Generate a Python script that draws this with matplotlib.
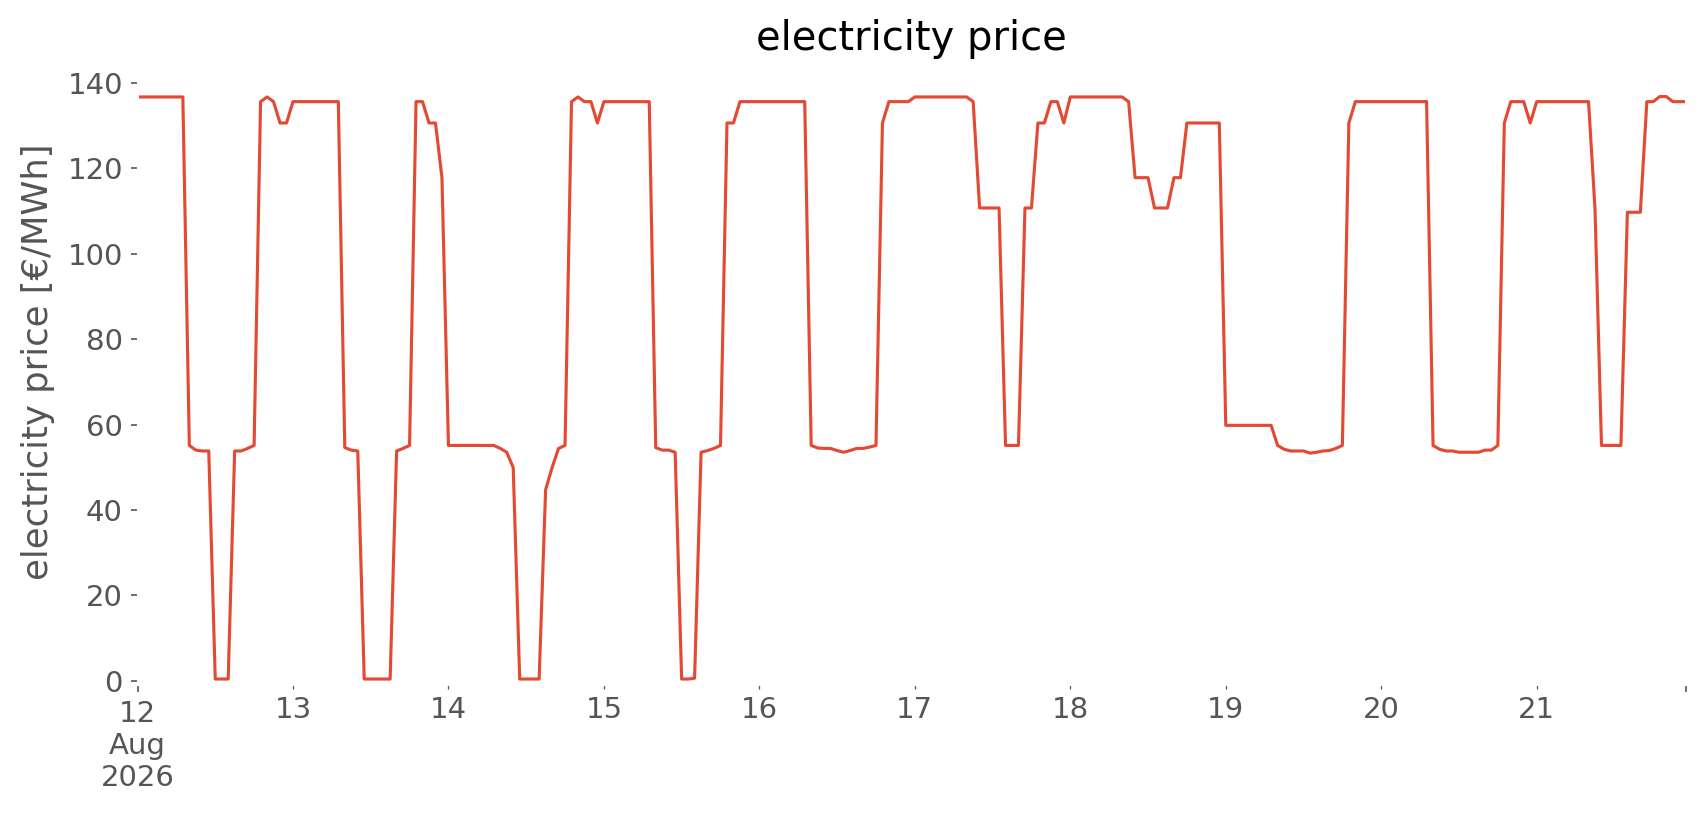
import matplotlib
matplotlib.use("Agg")
import matplotlib.pyplot as plt
import pandas as pd

start = "2026-08-12 00:00"
title = "electricity price"
ylabel = "electricity price [€/MWh]"

# hourly electricity prices [€/MWh], one list per day (24 values)
aug12 = [136.7, 136.7, 136.7, 136.7, 136.7, 136.7, 136.7, 136.7,
         55.1, 54.0, 53.8, 53.8, 0.4, 0.4, 0.4, 53.8,
         53.8, 54.4, 55.1, 135.6, 136.7, 135.6, 130.6, 130.6]
aug13 = [135.6, 135.6, 135.6, 135.6, 135.6, 135.6, 135.6, 135.6,
         54.6, 54.0, 53.8, 0.4, 0.4, 0.4, 0.4, 0.4,
         53.8, 54.4, 55.1, 135.6, 135.6, 130.6, 130.6, 117.8]
aug14 = [55.1, 55.1, 55.1, 55.1, 55.1, 55.1, 55.1, 55.1,
         54.4, 53.5, 49.9, 0.4, 0.4, 0.4, 0.4, 44.7,
         49.9, 54.4, 55.1, 135.6, 136.7, 135.6, 135.6, 130.6]
aug15 = [135.6, 135.6, 135.6, 135.6, 135.6, 135.6, 135.6, 135.6,
         54.6, 54.0, 54.0, 53.5, 0.4, 0.4, 0.6, 53.5,
         53.9, 54.4, 55.1, 130.6, 130.6, 135.6, 135.6, 135.6]
aug16 = [135.6, 135.6, 135.6, 135.6, 135.6, 135.6, 135.6, 135.6,
         55.1, 54.5, 54.4, 54.4, 53.9, 53.5, 53.9, 54.4,
         54.4, 54.7, 55.1, 130.6, 135.6, 135.6, 135.6, 135.6]
aug17 = [136.7, 136.7, 136.7, 136.7, 136.7, 136.7, 136.7, 136.7,
         136.7, 135.6, 110.7, 110.7, 110.7, 110.7, 55.1, 55.1,
         55.1, 110.7, 110.7, 130.6, 130.6, 135.6, 135.6, 130.6]
aug18 = [136.7, 136.7, 136.7, 136.7, 136.7, 136.7, 136.7, 136.7,
         136.7, 135.6, 117.8, 117.8, 117.8, 110.7, 110.7, 110.7,
         117.8, 117.8, 130.6, 130.6, 130.6, 130.6, 130.6, 130.6]
aug19 = [59.8, 59.8, 59.8, 59.8, 59.8, 59.8, 59.8, 59.8,
         55.1, 54.2, 53.8, 53.8, 53.8, 53.3, 53.5, 53.8,
         53.9, 54.4, 55.1, 130.6, 135.6, 135.6, 135.6, 135.6]
aug20 = [135.6, 135.6, 135.6, 135.6, 135.6, 135.6, 135.6, 135.6,
         55.1, 54.2, 53.8, 53.8, 53.5, 53.5, 53.5, 53.5,
         54.0, 54.0, 55.1, 130.6, 135.6, 135.6, 135.6, 130.6]
aug21 = [135.6, 135.6, 135.6, 135.6, 135.6, 135.6, 135.6, 135.6,
         135.6, 110.5, 55.1, 55.1, 55.1, 55.1, 109.7, 109.7,
         109.7, 135.6, 135.6, 136.8, 136.8, 135.6, 135.6, 135.6]

prices = aug12 + aug13 + aug14 + aug15 + aug16 + aug17 + aug18 + aug19 + aug20 + aug21

plt.style.use("ggplot")
plt.rcParams["font.size"] = 14
plt.rcParams["font.family"] = ["DejaVu Sans"]

index = pd.date_range(start, periods=len(prices), freq="h")
series = pd.Series(prices, index=index)

fig = plt.figure(figsize=(1706 / 150, 815 / 150), dpi=150)
ax = fig.add_axes([0.0806, 0.1595, 0.9075, 0.7577])
series.plot(ax=ax, color="#E24A33", linewidth=1.5)
ax.set_facecolor("white")
ax.grid(False)
ax.set_ylim(-1.0, 143.6)
ax.set_title(title, fontsize=19.2, pad=8.5)
ax.set_ylabel(ylabel, fontsize=17)
ax.yaxis.set_label_coords(-0.0534, 0.523)
ax.set_xlabel("")

fig.savefig("out.png", dpi=150, facecolor="white")
